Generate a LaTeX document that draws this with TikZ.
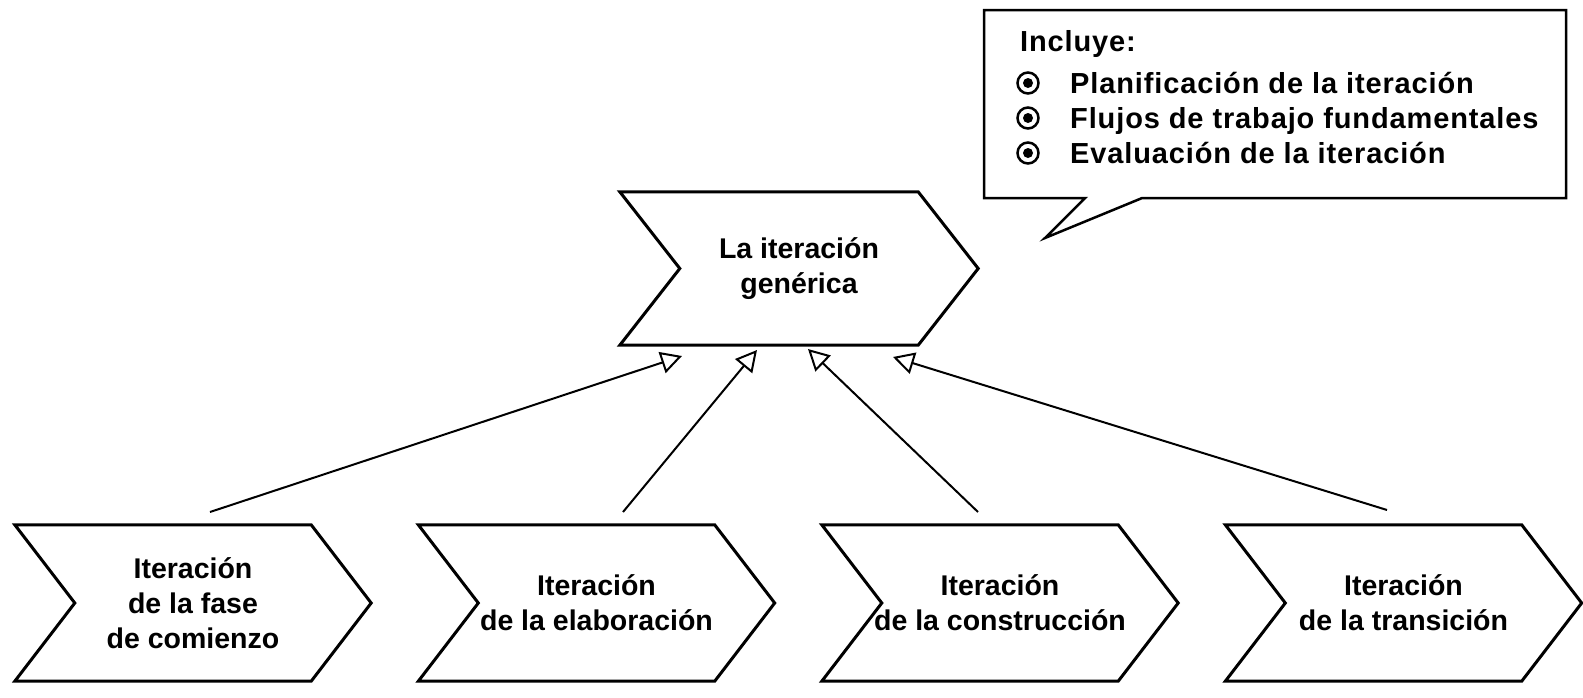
\documentclass[tikz,border=0pt]{standalone}
\usepackage{fontspec}
\setmainfont{Liberation Sans}
\usetikzlibrary{arrows.meta,shapes.callouts}

\begin{document}
\begin{tikzpicture}[x=1pt,y=-1pt,%%
  chevronStyle/.style={-,line width=3pt,line join=miter},%%
  boxStyle/.style={minimum width=356pt,minimum height=156pt,inner sep=0pt,align=center,font=\fontsize{28.5}{35}\selectfont\bfseries},%%
  arrowStyle/.style={-{Triangle[open,length=21pt,width=22pt]},line width=2pt},%%
  noteStyle/.style={rectangle callout,draw,line width=2.5pt,minimum width=582pt,minimum height=188pt,callout pointer width=57pt},%%
  textStyle/.style={anchor=base west,inner sep=0pt,font=\fontsize{29}{35}\selectfont\bfseries\addfontfeatures{LetterSpace=3.0}},%%
  bulletStyle/.style={line width=2.5pt}%%
]
%%
\useasboundingbox (0,0) rectangle (1583,697);
%%
\pgfmathsetmacro{\dtip}{60} %% depth of the notch and of the point
\pgfmathsetmacro{\ybox}{603} %% centre line of the lower row
\pgfmathsetmacro{\dbox}{403.5} %% distance between two lower boxes
%%
%% The generic iteration at the top.
\node[boxStyle,minimum width=358pt,minimum height=153pt] (gen) at (799,268.5) {La iteración\\genérica};
%%
%% The four iterations of the lower row.
\node[boxStyle] (ini) at (193,\ybox) {Iteración\\de la fase\\de comienzo};
\node[boxStyle] (ela) at (193+\dbox,\ybox) {Iteración\\de la elaboración};
\node[boxStyle] (con) at (193+2*\dbox,\ybox) {Iteración\\de la construcción};
\node[boxStyle] (tra) at (193+3*\dbox,\ybox) {Iteración\\de la transición};
%%
%% Draw the chevron round each box.
\foreach \n in {gen,ini,ela,con,tra}
  \draw[chevronStyle] (\n.north west) -- ([xshift=-\dtip pt]\n.north east) -- (\n.east)
    -- ([xshift=-\dtip pt]\n.south east) -- (\n.south west) -- ([xshift=\dtip pt]\n.west) -- cycle;
%%
%% Tails just above the lower row, tips just below the top box.
\coordinate (tailIni) at (210,512);
\coordinate (tipIni) at (682,356);
\coordinate (tailEla) at (623,512);
\coordinate (tipEla) at (757,350);
\coordinate (tailCon) at (978,512);
\coordinate (tipCon) at (808,349);
\coordinate (tailTra) at (1387,510);
\coordinate (tipTra) at (893,357);
%%
\draw[arrowStyle] (tailIni) -- (tipIni);
\draw[arrowStyle] (tailEla) -- (tipEla);
\draw[arrowStyle] (tailCon) -- (tipCon);
\draw[arrowStyle] (tailTra) -- (tipTra);
%%
%% The note with its pointer towards the top box.
\coordinate (noteTip) at (1045,238);
\node[noteStyle,callout absolute pointer={(noteTip)}] (note) at (1275,104) {};
\node[textStyle] (incl) at (1020,51) {Incluye:};
\node[textStyle] (plan) at (1070,93) {Planificación de la iteración};
\node[textStyle] (flow) at (1070,128) {Flujos de trabajo fundamentales};
\node[textStyle] (eval) at (1070,163) {Evaluación de la iteración};
%%
%% A ringed dot in front of each item.
\foreach \n in {plan,flow,eval} {
  \draw[bulletStyle] ([shift={(-42pt,10pt)}]\n.base west) circle (10.5);
  \fill ([shift={(-42pt,10pt)}]\n.base west) circle (5);
}
\end{tikzpicture}
\end{document}
